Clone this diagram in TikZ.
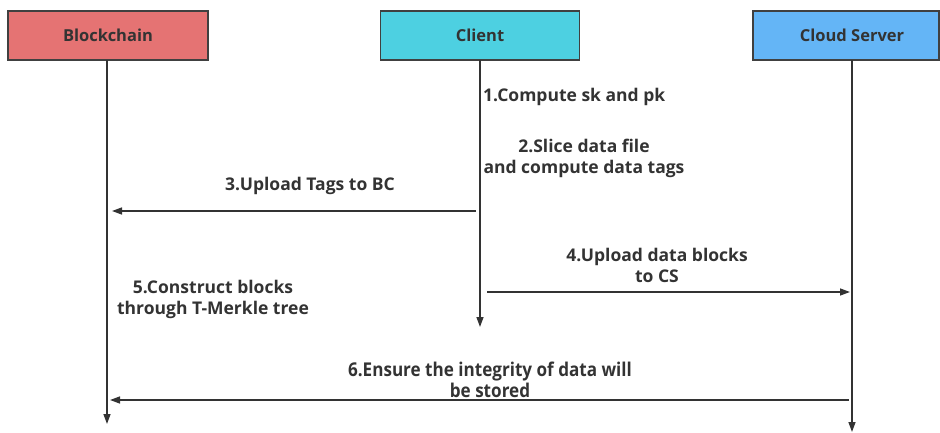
\documentclass[tikz,border=0pt]{standalone}
\usepackage{fontspec}
\setmainfont{Open Sans}[BoldFont={* Bold}]
\newfontfamily\narrowbold{Open Sans}[UprightFont={* Bold},FakeStretch=0.9]
\usetikzlibrary{arrows.meta}
\definecolor{ink}{HTML}{333333}
\definecolor{edge}{HTML}{404040}
\definecolor{bcred}{HTML}{E57373}
\definecolor{clcyan}{HTML}{4DD0E1}
\definecolor{csblue}{HTML}{64B5F6}
\tikzset{
  actor/.style={draw=edge, line width=1.4pt, minimum height=49pt, inner sep=0pt,
                font=\bfseries\fontsize{16.5}{19}\selectfont, text=ink},
  lifeline/.style={draw=ink, line width=1.4pt, -{Triangle[length=10pt,width=7pt]}},
  msg/.style={draw=ink, line width=1.4pt, -{Triangle[length=10pt,width=7pt]}},
  note/.style={font=\bfseries\fontsize{17.5}{21}\selectfont, text=ink, align=center, inner sep=0pt},
}
\begin{document}
\begin{tikzpicture}[x=1pt,y=-1pt]
\useasboundingbox (0,0) rectangle (940,432);

% participants
\node[actor, fill=bcred, minimum width=200pt] (bc) at (108,35.5) {Blockchain};
\node[actor, fill=clcyan, minimum width=199pt] (cl) at (480,35.5) {Client};
\node[actor, fill=csblue, minimum width=186pt] (csbox) at (846,35.5) {};
\node[font=\bfseries\fontsize{16.5}{19}\selectfont, text=ink] (cs) at (852,35.5) {Cloud Server};

% lifeline ends
\coordinate (bctop) at (107,60);
\coordinate (bcend) at (107,424);
\coordinate (cltop) at (480,60);
\coordinate (clend) at (480,327);
\coordinate (cstop) at (852,60);
\coordinate (csend) at (852,432);

\draw[lifeline] (bctop) -- (bcend);
\draw[lifeline] (cltop) -- (clend);
\draw[lifeline] (cstop) -- (csend);

% message endpoints
\coordinate (m3a) at (476,211);
\coordinate (m3b) at (112,211);
\coordinate (m4a) at (487,292);
\coordinate (m4b) at (850,292);
\coordinate (m6a) at (849,400);
\coordinate (m6b) at (110,400);

\draw[msg] (m3a) -- (m3b);
\draw[msg] (m4a) -- (m4b);
\draw[msg] (m6a) -- (m6b);

% step labels
\node[note, anchor=west] (s1) at (483,97) {1.Compute sk and pk};
\node[note] (s2) at (584,158.5) {2.Slice data file\\and compute data tags};
\node[note] (s3) at (310,186) {3.Upload Tags to BC};
\node[note] (s4) at (657,265) {4.Upload data blocks\\to CS};
\node[note] (s5) at (213,299) {5.Construct blocks\\through T-Merkle tree};
\node[note, font=\narrowbold\fontsize{19}{21}\selectfont] (s6) at (490,380) {6.Ensure the integrity of data will\\be stored};
\end{tikzpicture}
\end{document}
